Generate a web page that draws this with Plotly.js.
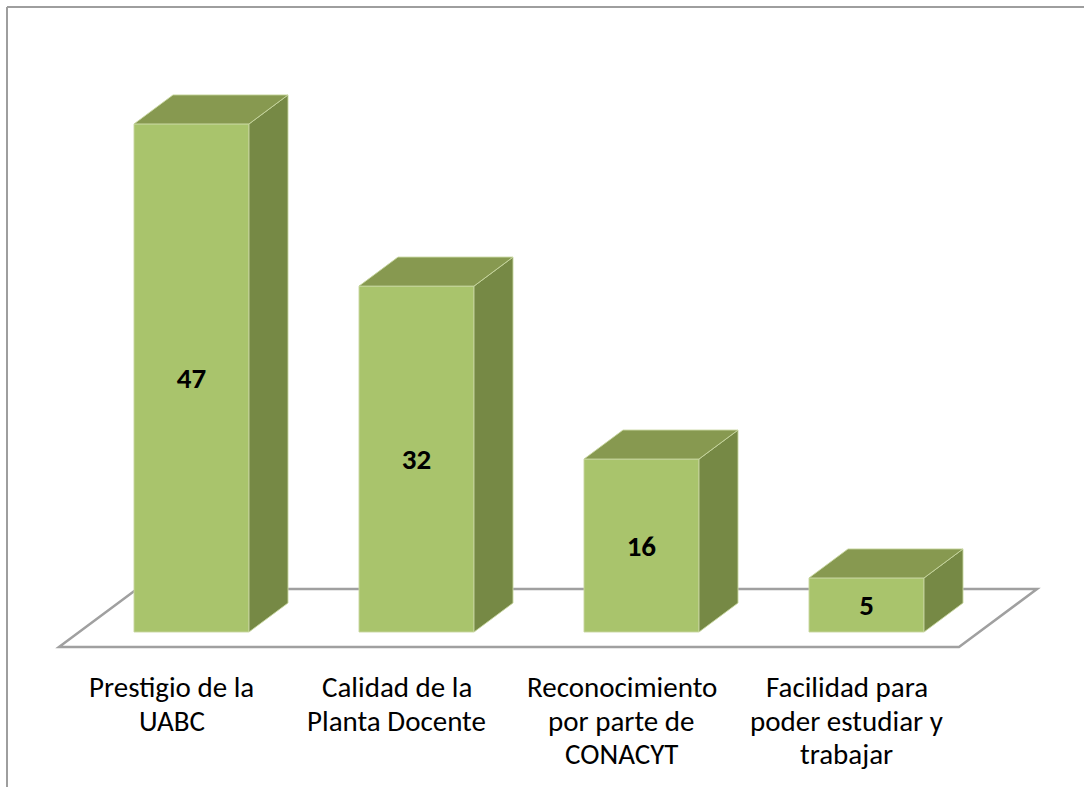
<!DOCTYPE html>
<html>
<head>
<meta charset="utf-8">
<script src="https://cdn.plot.ly/plotly-3.0.1.min.js"></script>
<style>
  html, body { margin: 0; padding: 0; background: #ffffff; }
  #chart { width: 1084px; height: 787px; }
</style>
</head>
<body>
<div id="chart"></div>
<script>
// ---- data ----
const categories = [
  "Prestigio de la<br>UABC",
  "Calidad de la<br>Planta Docente",
  "Reconocimiento<br>por parte de<br>CONACYT",
  "Facilidad para<br>poder estudiar y<br>trabajar"
];
const values = [47, 32, 16, 5];

// ---- geometry / style ----
const W = 1084, H = 787;
const pxPerCat = 225, x0px = 191.5;     // pixel of first category centre
const pxPerUnit = 10.81, y0px = 632;    // pixel of value 0 (bar front bottom)
const toDX = px => px / pxPerCat;
const toDY = px => px / pxPerUnit;

const barW = toDX(115);
const depthX = toDX(39), depthY = toDY(29);   // bar depth projection
const floorFrontX = -toDX(20), floorFrontY = -toDY(15);
const floorBackX = toDX(58), floorBackY = toDY(43);

const cFront = '#A9C46C', cTop = '#879950', cSide = '#768945';
const edge = 'rgba(200,214,160,0.9)';
const fontFam = "Carlito, Calibri, 'Open Sans', sans-serif";

const xs = values.map((v, i) => i);
const traces = [];

// front faces (bars)
traces.push({
  type: 'bar', x: xs, y: values, width: barW,
  marker: { color: cFront, line: { color: edge, width: 1 } },
  text: values.map(String), textposition: 'inside', insidetextanchor: 'middle',
  textangle: 0,
  textfont: { family: fontFam, size: 29, color: '#000000', weight: 'bold' },
  hoverinfo: 'skip', showlegend: false
});

// side and top faces
values.forEach((v, i) => {
  const r = i + barW / 2, l = i - barW / 2;
  traces.push({
    type: 'scatter', mode: 'lines', fill: 'toself', fillcolor: cSide,
    x: [r, r + depthX, r + depthX, r, r],
    y: [0, depthY, v + depthY, v, 0],
    line: { color: edge, width: 1 }, hoverinfo: 'skip', showlegend: false
  });
  traces.push({
    type: 'scatter', mode: 'lines', fill: 'toself', fillcolor: cTop,
    x: [l, r, r + depthX, l + depthX, l],
    y: [v, v, v + depthY, v + depthY, v],
    line: { color: edge, width: 1 }, hoverinfo: 'skip', showlegend: false
  });
});

const n = values.length;
const shapes = [
  // floor
  {
    type: 'path', layer: 'below', xref: 'x', yref: 'y',
    path: `M ${-0.5 + floorFrontX} ${floorFrontY} L ${n - 0.5 + floorFrontX} ${floorFrontY} ` +
          `L ${n - 0.5 + floorBackX} ${floorBackY} L ${-0.5 + floorBackX} ${floorBackY} Z`,
    line: { color: '#A0A0A0', width: 2.5 }, fillcolor: 'rgba(255,255,255,0)'
  },
  // chart frame (top and left edges)
  { type: 'line', xref: 'paper', yref: 'paper', x0: 7 / W, x1: 1, y0: 1 - 7 / H, y1: 1 - 7 / H,
    line: { color: '#9E9E9E', width: 2 } },
  { type: 'line', xref: 'paper', yref: 'paper', x0: 7 / W, x1: 7 / W, y0: 0, y1: 1 - 7 / H,
    line: { color: '#9E9E9E', width: 2 } }
];

// category labels, one annotation per line, centred under the floor front
const annotations = [];
const lineTop = 687, lineStep = 33.5;
categories.forEach((c, i) => {
  c.split('<br>').forEach((t, k) => {
    annotations.push({
      xref: 'x', yref: 'y', x: i + floorFrontX, y: toDY(y0px - (lineTop + k * lineStep)),
      text: t, showarrow: false, xanchor: 'center', yanchor: 'middle',
      font: { family: fontFam, size: 29, color: '#000000' }
    });
  });
});

const layout = {
  width: W, height: H,
  margin: { l: 0, r: 0, t: 0, b: 0 },
  paper_bgcolor: '#ffffff', plot_bgcolor: '#ffffff',
  xaxis: { range: [-x0px / pxPerCat, (W - x0px) / pxPerCat], visible: false, fixedrange: true },
  yaxis: { range: [(y0px - H) / pxPerUnit, y0px / pxPerUnit], visible: false, fixedrange: true },
  shapes: shapes, annotations: annotations,
  showlegend: false, bargap: 0
};

Plotly.newPlot('chart', traces, layout, { displayModeBar: false, staticPlot: true });
</script>
</body>
</html>
